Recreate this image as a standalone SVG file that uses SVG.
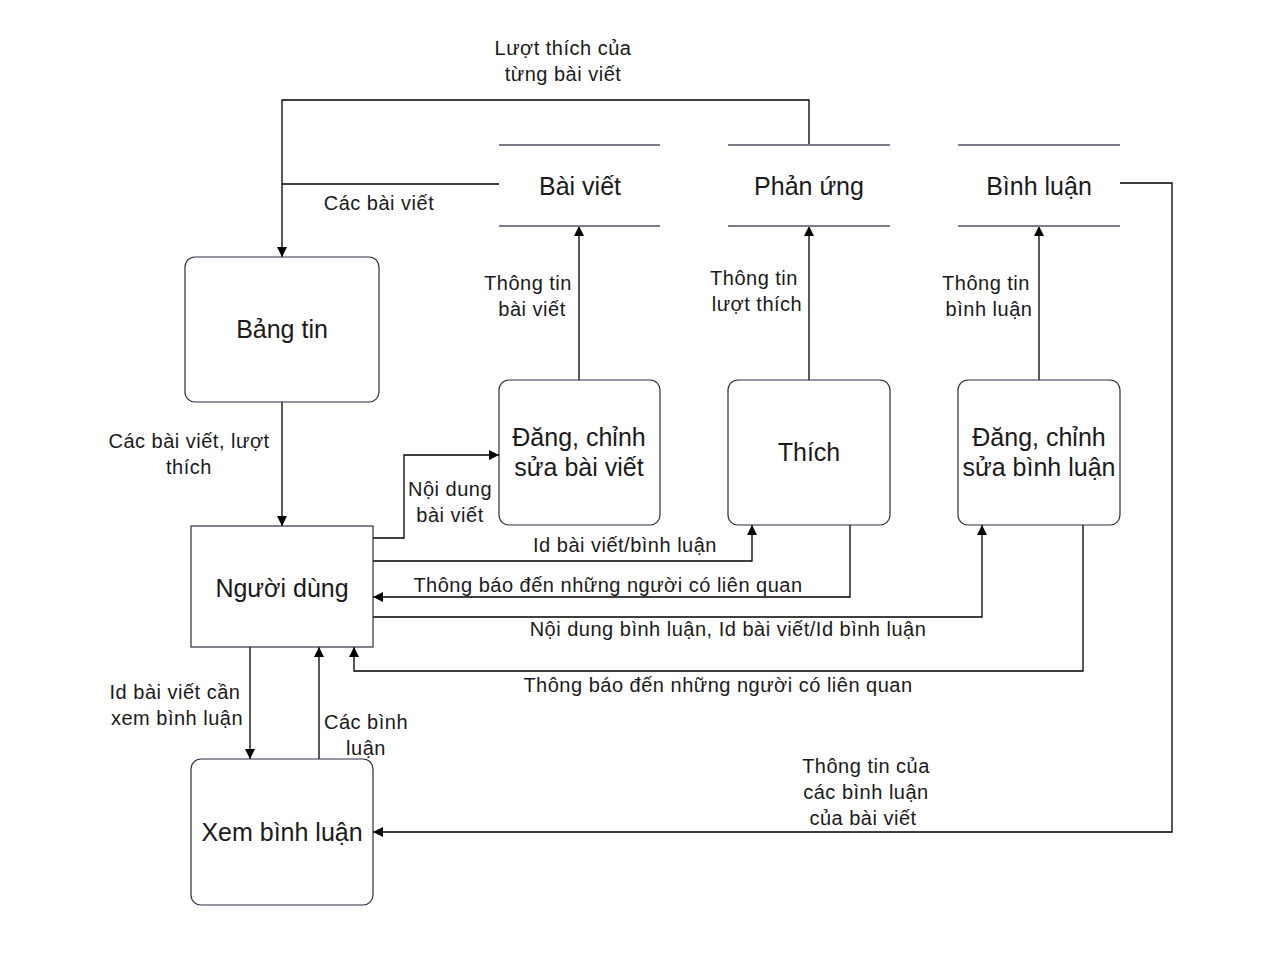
<svg xmlns="http://www.w3.org/2000/svg" width="1280" height="962" viewBox="0 0 1280 962">
<defs>
<marker id="arr" viewBox="0 0 10 10" refX="10" refY="5" markerWidth="11" markerHeight="10" markerUnits="userSpaceOnUse" orient="auto">
<path d="M0,0 L10,5 L0,10 z" fill="#000"/>
</marker>
<style>
.proc{fill:#fff;stroke:#2b2d42;stroke-width:1.2}
.store{stroke:#7a7d8c;stroke-width:2}
.nt{font-family:"Liberation Sans",Arial,sans-serif;font-size:25px;fill:#1a1a1a;text-anchor:middle}
.lt{font-family:"Liberation Sans",Arial,sans-serif;font-size:20px;letter-spacing:0.5px;fill:#1a1a1a;text-anchor:middle}
.c{fill:none;stroke:#000;stroke-width:1.3}
</style>
</defs>
<rect width="1280" height="962" fill="#fff"/>

<g id="connectors">
<path class="c" d="M809,145 V100 H282 V257" marker-end="url(#arr)"/>
<path class="c" d="M499,184 H282"/>
<path class="c" d="M579,380 V226" marker-end="url(#arr)"/>
<path class="c" d="M809,380 V226" marker-end="url(#arr)"/>
<path class="c" d="M1039,380 V226" marker-end="url(#arr)"/>
<path class="c" d="M282,402 V526" marker-end="url(#arr)"/>
<path class="c" d="M373,538 H404 V455 H499" marker-end="url(#arr)"/>
<path class="c" d="M373,561 H752 V525" marker-end="url(#arr)"/>
<path class="c" d="M850,525 V597 H373" marker-end="url(#arr)"/>
<path class="c" d="M373,617 H982 V525" marker-end="url(#arr)"/>
<path class="c" d="M1083,525 V671 H354 V647" marker-end="url(#arr)"/>
<path class="c" d="M250,647 V759" marker-end="url(#arr)"/>
<path class="c" d="M319,759 V647" marker-end="url(#arr)"/>
<path class="c" d="M1120,183 H1172 V832 H373" marker-end="url(#arr)"/>

<text class="lt" x="563" y="55">Lượt thích của</text>
<text class="lt" x="563" y="81">từng bài viết</text>
<text class="lt" x="379" y="210">Các bài viết</text>
<text class="lt" x="528" y="290">Thông tin</text>
<text class="lt" x="532" y="316">bài viết</text>
<text class="lt" x="754" y="285">Thông tin</text>
<text class="lt" x="757" y="311">lượt thích</text>
<text class="lt" x="986" y="290">Thông tin</text>
<text class="lt" x="989" y="316">bình luận</text>
<text class="lt" x="189" y="448">Các bài viết, lượt</text>
<text class="lt" x="189" y="474">thích</text>
<text class="lt" x="450" y="496">Nội dung</text>
<text class="lt" x="450" y="522">bài viết</text>
<text class="lt" x="625" y="552">Id bài viết/bình luận</text>
<text class="lt" x="608" y="592">Thông báo đến những người có liên quan</text>
<text class="lt" x="728" y="636">Nội dung bình luận, Id bài viết/Id bình luận</text>
<text class="lt" x="718" y="692">Thông báo đến những người có liên quan</text>
<text class="lt" x="175" y="699">Id bài viết cần</text>
<text class="lt" x="177" y="725">xem bình luận</text>
<text class="lt" x="366" y="729">Các bình</text>
<text class="lt" x="366" y="755">luận</text>
<text class="lt" x="866" y="773">Thông tin của</text>
<text class="lt" x="866" y="799">các bình luận</text>
<text class="lt" x="863" y="825">của bài viết</text>
</g>

<g id="store-baiviet">
<line class="store" x1="499" y1="145" x2="660" y2="145"/>
<line class="store" x1="499" y1="226" x2="660" y2="226"/>
<text class="nt" x="580" y="195">Bài viết</text>
</g>
<g id="store-phanung">
<line class="store" x1="728" y1="145" x2="890" y2="145"/>
<line class="store" x1="728" y1="226" x2="890" y2="226"/>
<text class="nt" x="809" y="195">Phản ứng</text>
</g>
<g id="store-binhluan">
<line class="store" x1="958" y1="145" x2="1120" y2="145"/>
<line class="store" x1="958" y1="226" x2="1120" y2="226"/>
<text class="nt" x="1039" y="195">Bình luận</text>
</g>

<g id="bangtin">
<rect class="proc" x="185" y="257" width="194" height="145" rx="10"/>
<text class="nt" x="282" y="338">Bảng tin</text>
</g>
<g id="nguoidung">
<rect class="proc" x="191" y="526" width="182" height="121"/>
<text class="nt" x="282" y="597">Người dùng</text>
</g>
<g id="xembinhluan">
<rect class="proc" x="191" y="759" width="182" height="146" rx="10"/>
<text class="nt" x="282" y="841">Xem bình luận</text>
</g>
<g id="dangbaiviet">
<rect class="proc" x="499" y="380" width="161" height="145" rx="10"/>
<text class="nt" x="579" y="446">Đăng, chỉnh</text>
<text class="nt" x="579" y="476">sửa bài viết</text>
</g>
<g id="thich">
<rect class="proc" x="728" y="380" width="162" height="145" rx="10"/>
<text class="nt" x="809" y="461">Thích</text>
</g>
<g id="dangbinhluan">
<rect class="proc" x="958" y="380" width="162" height="145" rx="10"/>
<text class="nt" x="1039" y="446">Đăng, chỉnh</text>
<text class="nt" x="1039" y="476">sửa bình luận</text>
</g>
</svg>
